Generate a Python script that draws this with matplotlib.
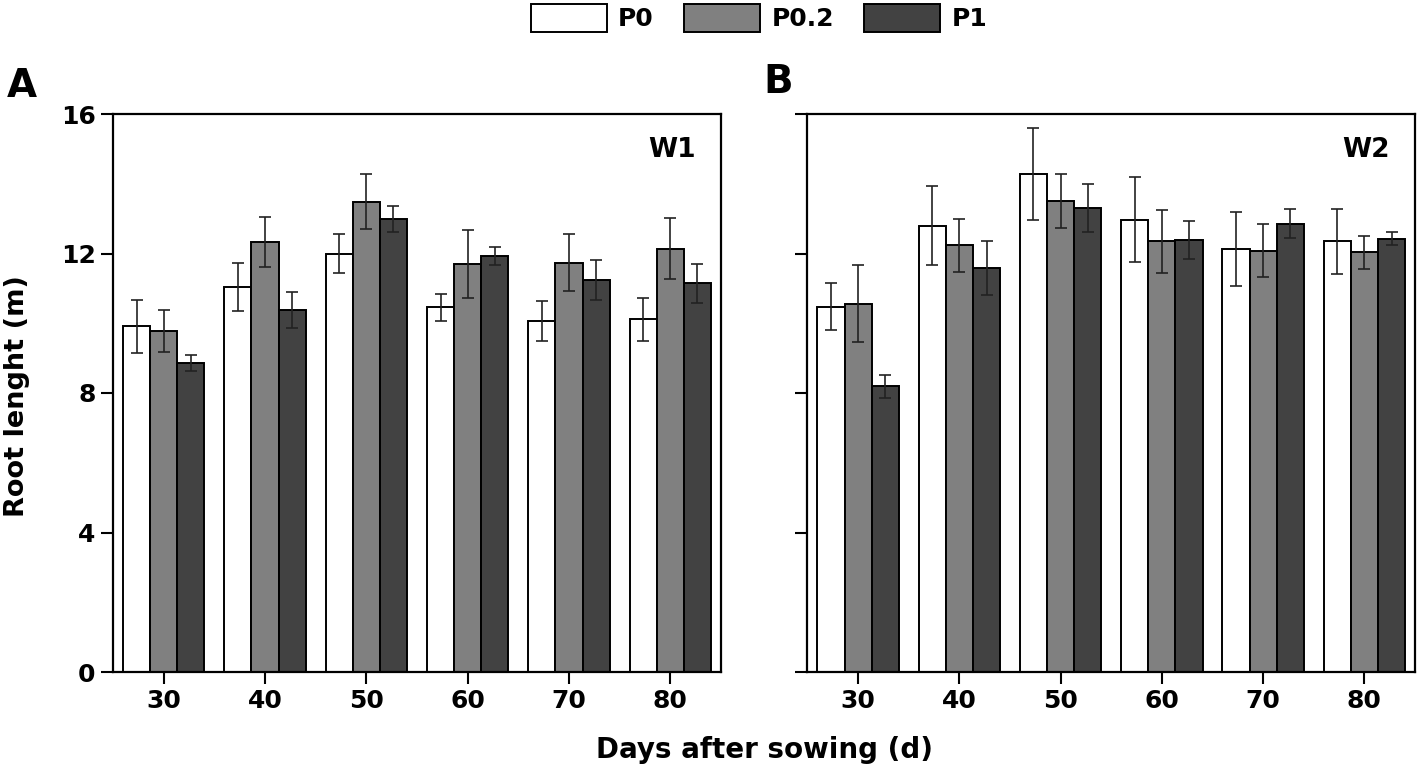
import matplotlib
matplotlib.use("Agg")
import matplotlib.pyplot as plt
import numpy as np
from matplotlib.patches import Patch

days = ["30", "40", "50", "60", "70", "80"]
series = ["P0", "P0.2", "P1"]
colors = ["#ffffff", "#808080", "#424242"]

w1_p0 = [9.91, 11.04, 11.99, 10.46, 10.07, 10.11]
w1_p02 = [9.78, 12.33, 13.49, 11.69, 11.74, 12.14]
w1_p1 = [8.87, 10.38, 13.00, 11.94, 11.23, 11.15]
w1_p0_err = [0.77, 0.68, 0.56, 0.39, 0.57, 0.61]
w1_p02_err = [0.61, 0.72, 0.79, 0.97, 0.82, 0.87]
w1_p1_err = [0.23, 0.53, 0.37, 0.26, 0.57, 0.56]

w2_p0 = [10.48, 12.80, 14.28, 12.97, 12.12, 12.35]
w2_p02 = [10.56, 12.23, 13.50, 12.35, 12.08, 12.03]
w2_p1 = [8.20, 11.58, 13.31, 12.39, 12.86, 12.43]
w2_p0_err = [0.66, 1.13, 1.32, 1.22, 1.06, 0.93]
w2_p02_err = [1.11, 0.76, 0.77, 0.91, 0.76, 0.47]
w2_p1_err = [0.33, 0.78, 0.68, 0.54, 0.42, 0.19]

yticks = [0, 4, 8, 12, 16]

plt.rcParams['font.family'] = ['DejaVu Sans']
plt.rcParams['font.weight'] = 'bold'

fig = plt.figure(figsize=(14.18, 7.76), dpi=100)
axA = fig.add_axes([113/1418, 1-672/776, 608/1418, 558/776])
axB = fig.add_axes([807.5/1418, 1-672/776, 607.5/1418, 558/776])

def draw(ax, vals, errs, tag, show_ylabels):
    x = np.arange(len(days))
    bw = 0.268
    offs = [-bw, 0, bw]
    for v, e, c, o in zip(vals, errs, colors, offs):
        ax.bar(x + o, v, width=bw, color=c, edgecolor="black", linewidth=1.4, zorder=2)
        ax.errorbar(x + o, v, yerr=e, fmt="none", ecolor="#222222", elinewidth=1.2,
                    capsize=4.5, capthick=1.2, zorder=3)
    ax.set_xlim(-0.5, len(days) - 0.5)
    ax.set_ylim(0, 16)
    ax.set_xticks(x)
    ax.set_xticklabels(days, fontsize=18, fontweight="bold")
    ax.set_yticks(yticks)
    if show_ylabels:
        ax.set_yticklabels([str(t) for t in yticks], fontsize=18, fontweight="bold")
    else:
        ax.set_yticklabels([])
    ax.tick_params(axis="both", direction="out", length=8.5, width=1.5, pad=4)
    for s in ax.spines.values():
        s.set_linewidth(1.6)
    ax.text(0.959, 0.935, tag, transform=ax.transAxes, ha="right", va="center",
            fontsize=19, fontweight="bold")

draw(axA, [w1_p0, w1_p02, w1_p1], [w1_p0_err, w1_p02_err, w1_p1_err], "W1", True)
draw(axB, [w2_p0, w2_p02, w2_p1], [w2_p0_err, w2_p02_err, w2_p1_err], "W2", False)

fig.text(22/1418, 1-86/776, "A", fontsize=28, fontweight="bold", ha="center", va="center")
fig.text(778/1418, 1-82/776, "B", fontsize=28, fontweight="bold", ha="center", va="center")
fig.text(17/1418, 1-396/776, "Root lenght (m)", rotation=90, fontsize=19.5,
         fontweight="bold", ha="center", va="center")
fig.text(764/1418, 1-750/776, "Days after sowing (d)", fontsize=20,
         fontweight="bold", ha="center", va="center")

handles = [Patch(facecolor=c, edgecolor="black", linewidth=1.4, label=s)
           for c, s in zip(colors, series)]
fig.legend(handles=handles, loc="center", bbox_to_anchor=(759/1418, 1-18/776), ncol=3,
           frameon=False, prop={"size": 18, "weight": "bold"},
           handlelength=3.05, handleheight=1.4, handletextpad=0.45, columnspacing=1.2,
           borderpad=0.1)

fig.savefig("out.png", dpi=100)
